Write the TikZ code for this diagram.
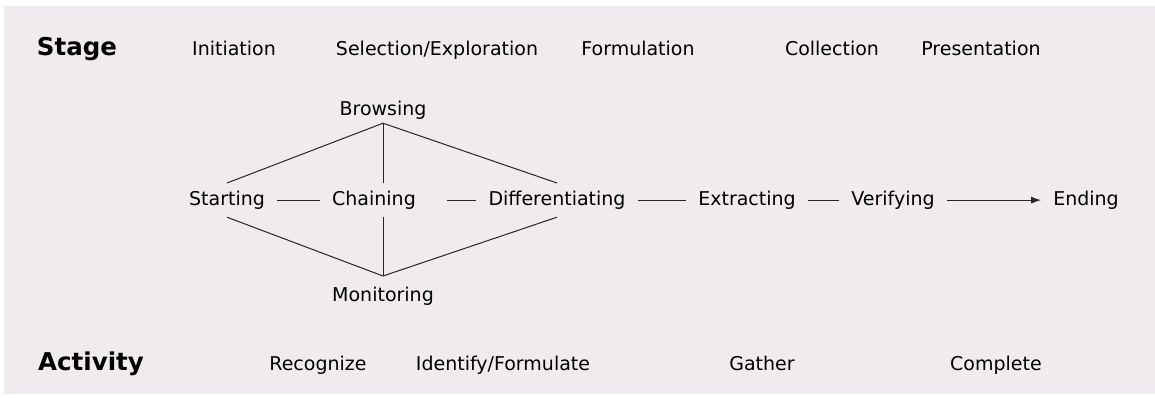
\documentclass[tikz,border=0pt]{standalone}
\usepackage{fontspec}
\setmainfont{DejaVu Sans}
\usetikzlibrary{arrows.meta}
\definecolor{bgc}{HTML}{EFEBEF}
\begin{document}
\begin{tikzpicture}[x=1pt,y=-1pt,
  lab/.style={anchor=base, inner sep=0pt, font=\fontsize{19}{22}\selectfont, text height=13.8pt, text depth=4pt},
  head/.style={anchor=base, inner sep=0pt, font=\fontsize{24.5}{28}\selectfont\bfseries},
  actnode/.style={lab, inner xsep=12pt, inner ysep=8pt},
  conn/.style={line width=1pt, draw=black!85}]
\useasboundingbox (0,0) rectangle (1155,397);
\fill[bgc] (4,6) rectangle (1155,394);
% stage row
\node[head] (stage) at (77,55) {Stage};
\node[lab] (init) at (234,55) {Initiation};
\node[lab] (selx) at (437,55) {Selection/Exploration};
\node[lab] (form) at (638,55) {Formulation};
\node[lab] (coll) at (832,55) {Collection};
\node[lab] (pres) at (981,55) {Presentation};
% activity row
\node[head] (activity) at (91,370) {Activity};
\node[lab] (recog) at (318,370) {Recognize};
\node[lab] (ident) at (503,370) {Identify/Formulate};
\node[lab] (gath) at (762,370) {Gather};
\node[lab] (comp) at (996,370) {Complete};
% model
\node[lab, inner ysep=4pt] (brow) at (383,115) {Browsing};
\node[lab, inner ysep=11pt] (mon) at (383,301) {Monitoring};
\node[actnode] (start) at (227,205) {Starting};
\node[actnode] (chain) at (374,205) {Chaining};
\node[actnode] (diff) at (557,205) {Differentiating};
\node[actnode] (extr) at (747,205) {Extracting};
\node[actnode] (veri) at (893,205) {Verifying};
\node[actnode] (endn) at (1086,205) {Ending};
% connectors
\draw[conn] (start.north) -- (brow.south) -- (diff.north);
\draw[conn] (brow.south) -- (brow.south |- chain.north);
\draw[conn] (start.south) -- (mon.north) -- (diff.south);
\draw[conn] (mon.north) -- (mon.north |- chain.south);
\draw[conn] (start.east) -- (chain.west);
\draw[conn, shorten <=19pt] (chain.east) -- (diff.west);
\draw[conn] (diff.east) -- (extr.west);
\draw[conn] (extr.east) -- (veri.west);
\draw[conn, -{Latex[length=10pt,width=7pt]}] (veri.east) -- (endn.west);
\end{tikzpicture}
\end{document}
